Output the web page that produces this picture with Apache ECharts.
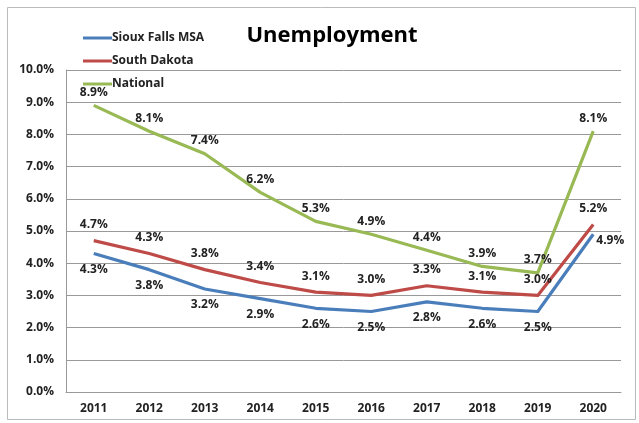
<!DOCTYPE html>
<html>
<head>
<meta charset="utf-8">
<script src="https://cdn.jsdelivr.net/npm/echarts@6/dist/echarts.min.js"></script>
<style>
html,body{margin:0;padding:0;background:#fff;}
#chart{width:639px;height:423px;}
</style>
</head>
<body>
<div id="chart"></div>
<script>
const years = ['2011','2012','2013','2014','2015','2016','2017','2018','2019','2020'];
const siouxFalls = [4.3, 3.8, 3.2, 2.9, 2.6, 2.5, 2.8, 2.6, 2.5, 4.9];
const southDakota = [4.7, 4.3, 3.8, 3.4, 3.1, 3.0, 3.3, 3.1, 3.0, 5.2];
const national = [8.9, 8.1, 7.4, 6.2, 5.3, 4.9, 4.4, 3.9, 3.7, 8.1];

const font = 'Open Sans, Noto Sans, sans-serif';
const labelStyle = (pos, dist) => ({
  show: true,
  position: pos,
  distance: dist,
  formatter: p => p.value.toFixed(1) + '%',
  fontFamily: font,
  fontWeight: 'bold',
  fontSize: 12,
  color: '#222'
});

// The last Sioux Falls label sits to the right of its point so it clears the South Dakota line.
const siouxData = siouxFalls.map((v, i) =>
  i === siouxFalls.length - 1
    ? {value: v, label: {position: 'right', distance: 3, offset: [0, 6]}}
    : v);

const lineSeries = (name, data, color, label) => ({
  name, type: 'line', data, smooth: false,
  symbol: 'circle', symbolSize: 0.1, showSymbol: true,
  color, lineStyle: {width: 3.2, join: 'round'},
  label
});

const chart = echarts.init(document.getElementById('chart'));
chart.setOption({
  animation: false,
  backgroundColor: '#fff',
  graphic: [{
    type: 'rect',
    shape: {x: 7.5, y: 7.5, width: 628, height: 412},
    style: {fill: 'none', stroke: '#bbb', lineWidth: 1},
    silent: true
  }],
  title: {
    text: 'Unemployment',
    left: 327, top: 20, textAlign: 'center',
    textStyle: {fontFamily: font, fontWeight: 'bold', fontSize: 22, color: '#000'}
  },
  legend: {
    orient: 'vertical',
    left: 78, top: 26,
    itemWidth: 29, itemHeight: 3, itemGap: 9,
    icon: 'rect',
    textStyle: {fontFamily: font, fontWeight: 'bold', fontSize: 12, lineHeight: 14, color: '#222', padding: [0,0,0,-5]},
    data: ['Sioux Falls MSA', 'South Dakota', 'National']
  },
  grid: {left: 66, right: 18, top: 70, bottom: 31, containLabel: false},
  xAxis: {
    type: 'category',
    data: years,
    boundaryGap: true,
    axisLine: {lineStyle: {color: '#999', width: 1}},
    axisTick: {show: false},
    axisLabel: {fontFamily: font, fontWeight: 'bold', fontSize: 12, color: '#222', margin: 11}
  },
  yAxis: {
    type: 'value',
    min: 0, max: 10, interval: 1,
    axisLine: {show: true, lineStyle: {color: '#999', width: 1}},
    axisTick: {show: false},
    splitLine: {lineStyle: {color: '#999', width: 1}},
    axisLabel: {formatter: v => v.toFixed(1) + '%', fontFamily: font, fontWeight: 'bold', fontSize: 12, color: '#222', margin: 12}
  },
  series: [
    lineSeries('Sioux Falls MSA', siouxData, '#4a7ebb', labelStyle('bottom', 10)),
    lineSeries('South Dakota', southDakota, '#be4b48', labelStyle('top', 10)),
    lineSeries('National', national, '#98b954', labelStyle('top', 7))
  ]
});
</script>
</body>
</html>
